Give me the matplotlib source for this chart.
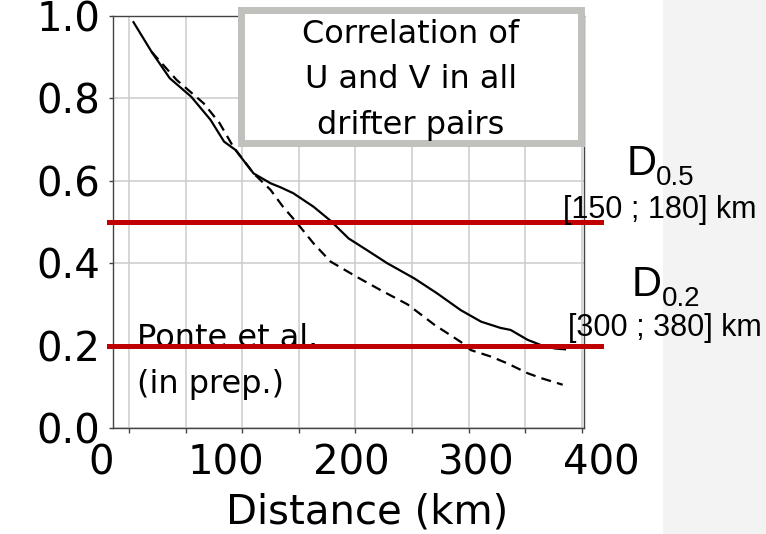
import matplotlib
matplotlib.use("Agg")
import matplotlib.pyplot as plt
import matplotlib.transforms as mtransforms
from matplotlib.patches import Rectangle

# ---------------- data ----------------
solid_km = [4, 20, 36, 55, 72, 84, 94, 110, 125, 134, 145, 163, 178, 194, 210,
            228, 252, 272, 293, 311, 328, 337, 352, 364, 376, 385]
solid_corr = [0.985, 0.913, 0.849, 0.804, 0.748, 0.695, 0.675, 0.618, 0.594,
              0.584, 0.570, 0.537, 0.503, 0.460, 0.432, 0.400, 0.363, 0.327,
              0.286, 0.258, 0.243, 0.238, 0.214, 0.201, 0.193, 0.191]

dashed_km = [20, 42, 66, 80, 92, 110, 125, 136, 148, 163, 178, 201, 222, 246,
             270, 293, 302, 320, 334, 352, 364, 383]
dashed_corr = [0.913, 0.845, 0.788, 0.740, 0.683, 0.618, 0.578, 0.537, 0.499,
               0.448, 0.404, 0.367, 0.335, 0.300, 0.250, 0.209, 0.189, 0.173,
               0.157, 0.133, 0.121, 0.105]

thresholds = [0.5, 0.2]
threshold_names = ["0.5", "0.2"]
threshold_ranges = ["[150 ; 180] km", "[300 ; 380] km"]

x_ticks = [0, 50, 100, 150, 200, 250, 300, 350, 400]
x_labels = [0, 100, 200, 300, 400]
y_ticks = [0.0, 0.2, 0.4, 0.6, 0.8, 1.0]
y_labels = ["0.0", "0.2", "0.4", "0.6", "0.8", "1.0"]

box_text = "Correlation of\nU and V in all\ndrifter pairs"
note_text = "Ponte et al.\n(in prep.)"
x_title = "Distance (km)"

# ---------------- figure ----------------
W, H = 766, 534
fig = plt.figure(figsize=(W / 100, H / 100), dpi=100)
fig.patch.set_facecolor("white")


def fx(px):
    return px / W


def fy(py):
    return 1 - py / H


# light grey panel on the right
fig.add_artist(Rectangle((fx(663), 0), 1 - fx(663), 1, transform=fig.transFigure,
                         facecolor="#f3f3f3", edgecolor="none", zorder=-1))

ax = fig.add_axes([fx(113), fy(428), (584 - 113) / W, (428 - 16) / H])
ax.plot(solid_km, solid_corr, color="black", lw=1.6, zorder=3)
ax.plot(dashed_km, dashed_corr, color="black", lw=1.6, ls=(0, (4.5, 2.8)), zorder=3)

ax.set_xlim(-14.1, 401.8)
ax.set_ylim(0, 1)
ax.set_xticks(x_ticks)
ax.set_yticks(y_ticks)
ax.set_yticklabels(y_labels)
ax.tick_params(axis="x", labelbottom=False, length=3.6, width=1, color="#444444")
ax.tick_params(axis="y", labelsize=29, length=3, width=1, pad=6, color="#444444")
ax.grid(True, color="#cccccc", lw=1.1)
ax.set_axisbelow(True)
for s in ax.spines.values():
    s.set_color("#444444")
    s.set_linewidth(1)


# x tick labels, spaced as in the reference (slightly wider than the grid)
def label_to_km(lab):
    return 1.1029 * lab - 24.37


xt = mtransforms.blended_transform_factory(ax.transData, ax.transAxes)
for lab in x_labels:
    ax.text(label_to_km(lab), -0.114, str(lab), transform=xt, fontsize=29,
            ha="center", va="baseline", clip_on=False)

ax.set_xlabel(x_title, fontsize=29)
ax.xaxis.set_label_coords(0.539, -0.2306)
ax.xaxis.label.set_verticalalignment("baseline")

# threshold lines
for v in thresholds:
    ax.axhline(v, xmin=-0.0085, xmax=1.036, color="#c00000", lw=3.6,
               clip_on=False, zorder=4)

ax.text(0.05, 0.085, note_text, transform=ax.transAxes, fontsize=23,
        ha="left", va="baseline", linespacing=1.62, zorder=2)

# title box
fig.add_artist(Rectangle((fx(241), fy(143.3)), (581 - 241) / W, (143.3 - 9.5) / H,
                         transform=fig.transFigure, facecolor="white",
                         edgecolor="#c0c0bc", lw=5, zorder=5))
fig.text(fx(411), fy(80), box_text, ha="center", va="center", fontsize=23,
         linespacing=1.6, multialignment="center", zorder=6)

# right-hand annotations
lib = ["Liberation Sans", "DejaVu Sans"]
ann = [  # (D x, D baseline, sub x, sub baseline, range x, range baseline)
    (627, 175, 656, 185, 563, 218),
    (632, 296, 662, 306, 568, 336),
]
for name, rng, (dx, dy, sx, sy, rx, ry) in zip(threshold_names, threshold_ranges, ann):
    fig.text(fx(dx), fy(dy), "D", family=lib, fontsize=30, ha="left", va="baseline", zorder=6)
    fig.text(fx(sx), fy(sy), name, family=lib, fontsize=20, ha="left", va="baseline", zorder=6)
    fig.text(fx(rx), fy(ry), rng, family=lib, fontsize=22, ha="left", va="baseline", zorder=6)

fig.savefig("out.png", dpi=100)
